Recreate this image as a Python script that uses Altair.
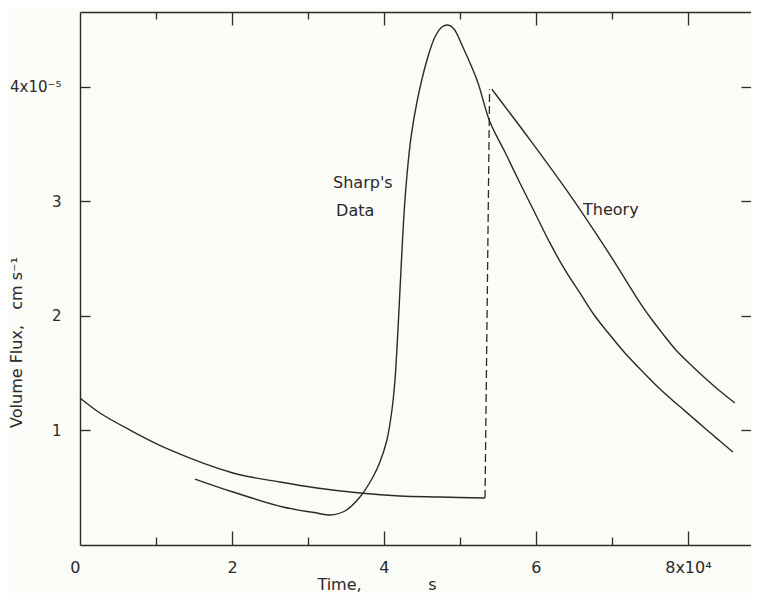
import altair as alt
import pandas as pd

# ---- data (time in 1e4 s, volume flux in 1e-5 cm/s) ----
theory_pre_t = [0.0, 0.263, 0.658, 1.184, 2.013, 2.632, 3.118, 3.684, 4.211, 4.737, 5.329]
theory_pre_q = [1.284, 1.153, 1.004, 0.830, 0.629, 0.550, 0.498, 0.454, 0.428, 0.419, 0.410]

jump_t = [5.33, 5.39]
jump_q = [0.41, 3.98]

theory_post_t = [5.42, 5.92, 6.447, 6.974, 7.329, 7.500, 7.671, 7.842, 8.026, 8.224, 8.421, 8.618]
theory_post_q = [3.98, 3.54, 3.057, 2.533, 2.157, 1.991, 1.843, 1.703, 1.581, 1.459, 1.345, 1.240]

sharp_t = [1.513, 2.013, 2.671, 3.118, 3.289, 3.487, 3.684, 3.855, 3.947, 4.039, 4.105,
           4.145, 4.184, 4.224, 4.263, 4.303, 4.355, 4.434, 4.566, 4.671, 4.763, 4.842,
           4.921, 5.026, 5.224, 5.395, 5.592, 5.789, 5.987, 6.184, 6.382, 6.579, 6.776,
           6.974, 7.171, 7.408, 7.632, 7.855, 8.053, 8.250, 8.421, 8.592]
sharp_q = [0.576, 0.463, 0.332, 0.279, 0.262, 0.297, 0.419, 0.594, 0.725, 0.917, 1.179,
           1.441, 1.878, 2.402, 2.882, 3.231, 3.555, 3.869, 4.236, 4.437, 4.524, 4.541,
           4.507, 4.367, 4.061, 3.694, 3.432, 3.162, 2.900, 2.638, 2.402, 2.201, 2.000,
           1.834, 1.677, 1.511, 1.362, 1.231, 1.118, 1.004, 0.908, 0.812]

label_text = ["Sharp's", "Data", "Theory"]
label_t = [3.33, 3.37, 6.62]
label_q = [3.16, 2.92, 2.93]

x_labels = [0, 2, 4, 6, 8]
x_major = [2, 4, 6, 8]
x_minor = [1, 3, 5, 7]
y_major = [1, 2, 3, 4]

X_DOMAIN = [0, 8.83]
Y_DOMAIN = [0, 4.655]
INK = "#2a2a2a"
FONT = "DejaVu Sans"
NB = "\u00a0"

rows = []
for t, q in zip(theory_pre_t, theory_pre_q):
    rows.append({"t": t, "q": q, "seg": "theory_pre"})
for t, q in zip(theory_post_t, theory_post_q):
    rows.append({"t": t, "q": q, "seg": "theory_post"})
for t, q in zip(sharp_t, sharp_q):
    rows.append({"t": t, "q": q, "seg": "sharp"})
lines_df = pd.DataFrame(rows)
jump_df = pd.DataFrame({"t": jump_t, "q": jump_q})
labels_df = pd.DataFrame({"text": label_text, "t": label_t, "q": label_q})

xs = alt.Scale(domain=X_DOMAIN, nice=False, zero=False)
ys = alt.Scale(domain=Y_DOMAIN, nice=False, zero=False)

TITLE_STYLE = dict(titleFont=FONT, titleFontSize=16, titleFontWeight="normal",
                   titleColor=INK, titleBaseline="alphabetic", titleAlign="center")


def tick_axis(orient, values, size, **kw):
    opts = dict(orient=orient, values=values, tickSize=size, offset=-size,
                domain=False, labels=False, grid=False, title=None,
                tickColor=INK, tickWidth=1.3)
    opts.update(kw)
    return alt.Axis(**opts)


# main lines + main axes (domain lines, labels, titles)
main = alt.Chart(lines_df).mark_line(interpolate="catmull-rom", strokeWidth=1.4, color=INK).encode(
    x=alt.X("t:Q", scale=xs, axis=alt.Axis(
        orient="bottom", values=x_labels, ticks=False, grid=False,
        domainColor=INK, domainWidth=1.4,
        labelExpr="datum.value == 8 ? '8x10⁴' : (datum.value == 0 ? '0\u00a0' : datum.label)",
        labelAlign={"condition": {"test": "datum.value == 0", "value": "right"}, "value": "center"},
        labelPadding=14, labelFontSize=16, labelColor=INK, labelFont=FONT,
        title="Time,", titleX=259, titleY=44, **TITLE_STYLE,
    )),
    y=alt.Y("q:Q", scale=ys, axis=alt.Axis(
        orient="left", values=y_major, ticks=False, grid=False,
        domainColor=INK, domainWidth=1.4,
        labelExpr="datum.value == 4 ? '4x10⁻⁵' : datum.label",
        labelPadding=19, labelFontSize=15, labelColor=INK, labelFont=FONT,
        title="Volume Flux," + NB * 3 + "cm s⁻¹", titleFont=FONT, titleFontSize=16,
        titleFontWeight="normal",
        titleColor=INK, titleX=-56, titleY=330, titleAlign="center", titleAngle=270,
    )),
    detail="seg:N",
)

# dashed jump of the theory curve + bottom major / left inward ticks
jump = alt.Chart(jump_df).mark_line(strokeDash=[8, 4], strokeWidth=1.3, color=INK).encode(
    x=alt.X("t:Q", scale=xs, axis=tick_axis("bottom", x_major, 14)),
    y=alt.Y("q:Q", scale=ys, axis=tick_axis("left", y_major, 10)),
)

# annotations + bottom minor ticks (carrying the unit "s") / right inward ticks
texts = alt.Chart(labels_df).mark_text(align="left", baseline="middle", font=FONT,
                                       fontSize=16, color=INK).encode(
    x=alt.X("t:Q", scale=xs, axis=tick_axis("bottom", x_minor, 8, title="s",
                                             titleX=352, titleY=44 + 8, **TITLE_STYLE)),
    y=alt.Y("q:Q", scale=ys, axis=tick_axis("right", y_major, 10)),
    text="text:N",
)

# top frame line
top_line = alt.Chart(labels_df).mark_point(opacity=0).encode(
    x=alt.X("t:Q", scale=xs, axis=alt.Axis(orient="top", ticks=False, labels=False,
                                           grid=False, title=None, domainColor=INK,
                                           domainWidth=1.4)),
    y=alt.Y("q:Q", scale=ys, axis=None),
)
# top inward ticks
top_major = alt.Chart(labels_df).mark_point(opacity=0).encode(
    x=alt.X("t:Q", scale=xs, axis=tick_axis("top", x_major, 13)),
    y=alt.Y("q:Q", scale=ys, axis=None),
)
top_minor = alt.Chart(labels_df).mark_point(opacity=0).encode(
    x=alt.X("t:Q", scale=xs, axis=tick_axis("top", x_minor, 7)),
    y=alt.Y("q:Q", scale=ys, axis=None),
)

chart = alt.layer(main, jump, texts, top_line, top_major, top_minor).resolve_axis(
    x="independent", y="independent"
).properties(
    width=671, height=533,
    autosize=alt.AutoSizeParams(type="none"),
    padding={"left": 72, "top": 4, "right": 0, "bottom": 48},
    background="#fbfbf8",
).configure_view(stroke=None)

chart.save("out.html", embed_options={"renderer": "svg", "actions": False})
